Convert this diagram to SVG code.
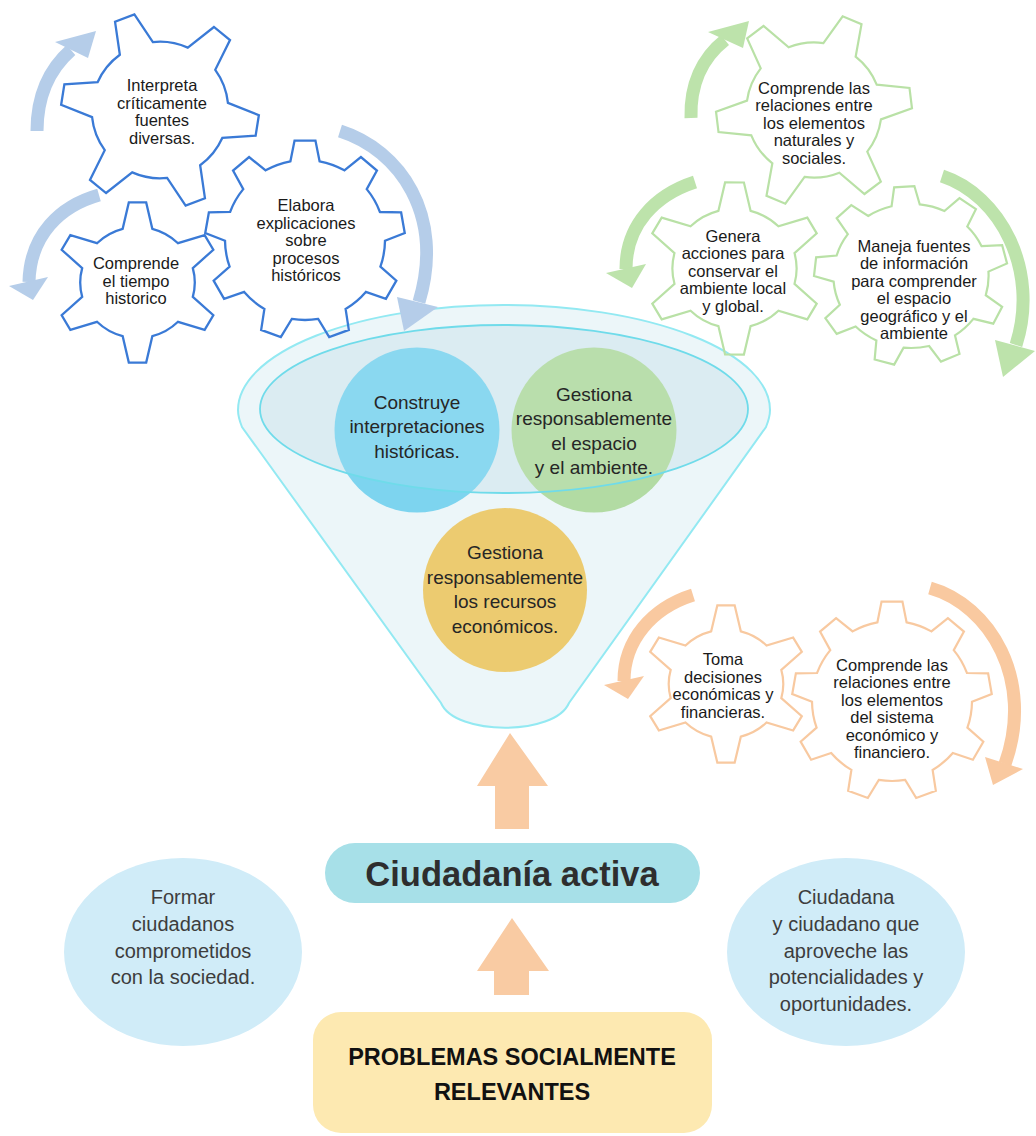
<svg xmlns="http://www.w3.org/2000/svg" xmlns:xlink="http://www.w3.org/1999/xlink" width="1036" height="1136" viewBox="0 0 1036 1136">
<style>
.gb{fill:none;stroke:#3a7ad6;stroke-width:2.3}
.gg{fill:none;stroke:#b9e1a6;stroke-width:2.2}
.go{fill:none;stroke:#f8c9a0;stroke-width:2.2}
.gt{font-family:"Liberation Sans",Arial,sans-serif;font-size:16.5px;fill:#1a1a1a;text-anchor:middle}
.ct{font-family:"Liberation Sans",Arial,sans-serif;font-size:19px;fill:#262626;text-anchor:middle}
.et{font-family:"Liberation Sans",Arial,sans-serif;font-size:20px;fill:#3d3d3d;text-anchor:middle}
.sb{fill:none;stroke:#b5cde9;stroke-width:13}
.sg{fill:none;stroke:#bde3ab;stroke-width:13}
.so{fill:none;stroke:#f9c9a0;stroke-width:13}
.hb{fill:#b5cde9}.hg{fill:#bde3ab}.ho{fill:#f9c9a0}
.up{fill:#f9cba3}
</style>
<defs>
<path id="gear6" vector-effect="non-scaling-stroke" d="M66.65,-17.86 L99.45,-10.45 L99.45,10.45 L66.65,17.86 A69,69 0 0 1 48.79,48.79 L58.78,80.9 L40.67,91.35 L17.86,66.65 A69,69 0 0 1 -17.86,66.65 L-40.67,91.35 L-58.78,80.9 L-48.79,48.79 A69,69 0 0 1 -66.65,17.86 L-99.45,10.45 L-99.45,-10.45 L-66.65,-17.86 A69,69 0 0 1 -48.79,-48.79 L-58.78,-80.9 L-40.67,-91.35 L-17.86,-66.65 A69,69 0 0 1 17.86,-66.65 L40.67,-91.35 L58.78,-80.9 L48.79,-48.79 A69,69 0 0 1 66.65,-17.86 Z"/>
<path id="gear9" vector-effect="non-scaling-stroke" d="M78.66,-14.58 L99.45,-10.45 L99.45,10.45 L78.66,14.58 A80,80 0 0 1 69.63,39.39 L82.9,55.92 L69.47,71.93 L50.89,61.73 A80,80 0 0 1 28.02,74.94 L27.56,96.13 L6.98,99.76 L-0.7,80 A80,80 0 0 1 -26.7,75.41 L-40.67,91.35 L-58.78,80.9 L-51.95,60.83 A80,80 0 0 1 -68.93,40.6 L-89.88,43.84 L-97.03,24.19 L-78.9,13.2 A80,80 0 0 1 -78.9,-13.2 L-97.03,-24.19 L-89.88,-43.84 L-68.93,-40.6 A80,80 0 0 1 -51.95,-60.83 L-58.78,-80.9 L-40.67,-91.35 L-26.7,-75.41 A80,80 0 0 1 -0.7,-80 L6.98,-99.76 L27.56,-96.13 L28.02,-74.94 A80,80 0 0 1 50.89,-61.73 L69.47,-71.93 L82.9,-55.92 L69.63,-39.39 A80,80 0 0 1 78.66,-14.58 Z"/>
</defs>
<rect width="1036" height="1136" fill="#ffffff"/>

<g id="funnel">
<path d="M238,410 A266,105 0 0 1 770,410 C770,416 768,422 766,427 L569,703 C555,736 455,736 441,703 L242,427 C240,422 238,416 238,410 Z" fill="#ecf6f9" stroke="#93e9f2" stroke-width="2"/>
<ellipse cx="504" cy="409" rx="244" ry="84" fill="#d7eaf1"/>
</g>
<g id="node-construye">
<circle cx="417" cy="430" r="82.5" fill="#7dd4ef"/>
</g>
<g id="node-gestiona-espacio">
<circle cx="594" cy="430" r="82.5" fill="#b2dba3"/>
</g>
<g id="node-gestiona-recursos">
<circle cx="505" cy="590" r="82" fill="#eccb70"/>
<text class="ct"><tspan x="505" y="558.5">Gestiona</tspan><tspan x="505" y="583.5">responsablemente</tspan><tspan x="505" y="607.5">los recursos</tspan><tspan x="505" y="632.5">económicos.</tspan></text>
</g>
<g id="funnel-rim">
<ellipse cx="504" cy="409" rx="244" ry="84" fill="#ffffff" fill-opacity="0.1" stroke="#6fdbea" stroke-width="1.8"/>
</g>
<g id="circle-texts">
<text class="ct"><tspan x="417" y="408.5">Construye</tspan><tspan x="417" y="432.5">interpretaciones</tspan><tspan x="417" y="457.5">históricas.</tspan></text>
<text class="ct"><tspan x="594" y="400.5">Gestiona</tspan><tspan x="594" y="424.5">responsablemente</tspan><tspan x="594" y="449.5">el espacio</tspan><tspan x="594" y="473.5">y el ambiente.</tspan></text>
</g>

<g id="connectors">
<path class="sb" d="M37,131 C37,100 46,72 71,50"/>
<polygon class="hb" points="55,42 96,31 88,58"/>
<path class="sb" d="M99,195 C60,206 30,235 29,282"/>
<polygon class="hb" points="9,286 48,277 33,300"/>
<path class="sb" d="M340,131 C400,150 445,215 419,302"/>
<polygon class="hb" points="397,297 438,307 404,331"/>
<path class="sg" d="M691,118 C690,85 702,58 725,40"/>
<polygon class="hg" points="708,32 749,21 743,48"/>
<path class="sg" d="M695,182 C655,195 626,225 626,269"/>
<polygon class="hg" points="606,273 646,264 632,288"/>
<path class="sg" d="M942,176 C1000,195 1040,270 1016,345"/>
<polygon class="hg" points="995,340 1035,351 1003,377"/>
<path class="so" d="M693,595 C652,608 624,640 624,681"/>
<polygon class="ho" points="604,685 644,676 628,699"/>
<path class="so" d="M930,588 C990,605 1035,680 1005,764"/>
<polygon class="ho" points="985,757 1023,769 993,785"/>
<polygon class="up" points="510,733 548,786 529,786 529,829 495,829 495,786 477,786"/>
<polygon class="up" points="512,918 549,971 529,971 529,995 494,995 494,971 477,971"/>
</g>

<g id="gear-interpreta">
<use xlink:href="#gear6" class="gb" transform="translate(160,110) rotate(9) scale(0.99)"/>
<text class="gt"><tspan x="162" y="91">Interpreta</tspan><tspan x="162" y="108.5">críticamente</tspan><tspan x="162" y="126">fuentes</tspan><tspan x="162" y="143.5">diversas.</tspan></text>
</g>
<g id="gear-tiempo">
<use xlink:href="#gear6" class="gb" transform="translate(137.5,282.5) scale(0.83,0.805) rotate(30)"/>
<text class="gt"><tspan x="136" y="269">Comprende</tspan><tspan x="136" y="286.5">el tiempo</tspan><tspan x="136" y="304">historico</tspan></text>
</g>
<g id="gear-elabora">
<use xlink:href="#gear9" class="gb" transform="translate(305,240) rotate(-10)"/>
<text class="gt"><tspan x="306" y="211">Elabora</tspan><tspan x="306" y="228.5">explicaciones</tspan><tspan x="306" y="246">sobre</tspan><tspan x="306" y="263.5">procesos</tspan><tspan x="306" y="281">históricos</tspan></text>
</g>
<g id="gear-naturales">
<use xlink:href="#gear6" class="gg" transform="translate(814,110) rotate(-7) scale(0.98)"/>
<text class="gt"><tspan x="814" y="93.5">Comprende las</tspan><tspan x="814" y="111">relaciones entre</tspan><tspan x="814" y="128.5">los elementos</tspan><tspan x="814" y="146">naturales y</tspan><tspan x="814" y="163.5">sociales.</tspan></text>
</g>
<g id="gear-genera">
<use xlink:href="#gear6" class="gg" transform="translate(734.5,268.5) scale(0.9,0.865) rotate(30)"/>
<text class="gt"><tspan x="733" y="241.5">Genera</tspan><tspan x="733" y="259">acciones para</tspan><tspan x="733" y="276.5">conservar el</tspan><tspan x="733" y="294">ambiente local</tspan><tspan x="733" y="311.5">y global.</tspan></text>
</g>
<g id="gear-maneja">
<use xlink:href="#gear9" class="gg" transform="translate(911,276) scale(0.97,0.9) rotate(-14)"/>
<text class="gt"><tspan x="914" y="251.5">Maneja fuentes</tspan><tspan x="914" y="269">de información</tspan><tspan x="914" y="286.5">para comprender</tspan><tspan x="914" y="304">el espacio</tspan><tspan x="914" y="321.5">geográfico y el</tspan><tspan x="914" y="339">ambiente</tspan></text>
</g>
<g id="gear-toma">
<use xlink:href="#gear6" class="go" transform="translate(726,684) scale(0.83,0.79) rotate(30)"/>
<text class="gt"><tspan x="723" y="665">Toma</tspan><tspan x="723" y="682.5">decisiones</tspan><tspan x="723" y="700">económicas y</tspan><tspan x="723" y="717.5">financieras.</tspan></text>
</g>
<g id="gear-financiero">
<use xlink:href="#gear9" class="go" transform="translate(892,701) rotate(-10)"/>
<text class="gt"><tspan x="892" y="670.5">Comprende las</tspan><tspan x="892" y="688">relaciones entre</tspan><tspan x="892" y="705.5">los elementos</tspan><tspan x="892" y="723">del sistema</tspan><tspan x="892" y="740.5">económico y</tspan><tspan x="892" y="758">financiero.</tspan></text>
</g>

<g id="node-ciudadania">
<rect x="325" y="843" width="375" height="60" rx="30" fill="#a7e0e8"/>
<text x="512" y="886" font-family="'Liberation Sans',Arial,sans-serif" font-size="34.5" font-weight="bold" fill="#2e2e2e" text-anchor="middle">Ciudadanía activa</text>
</g>
<g id="node-formar">
<ellipse cx="183" cy="952" rx="119" ry="94" fill="#d0ecf8"/>
<text class="et"><tspan x="183" y="904">Formar</tspan><tspan x="183" y="931">ciudadanos</tspan><tspan x="183" y="957.5">comprometidos</tspan><tspan x="183" y="984">con la sociedad.</tspan></text>
</g>
<g id="node-ciudadana">
<ellipse cx="846" cy="952" rx="119" ry="94" fill="#d0ecf8"/>
<text class="et"><tspan x="846" y="904">Ciudadana</tspan><tspan x="846" y="931">y ciudadano que</tspan><tspan x="846" y="957.5">aproveche las</tspan><tspan x="846" y="984">potencialidades y</tspan><tspan x="846" y="1011">oportunidades.</tspan></text>
</g>
<g id="node-problemas">
<rect x="313" y="1012" width="399" height="121" rx="28" fill="#fde9b1"/>
<text font-family="'Liberation Sans',Arial,sans-serif" font-size="23.5" font-weight="bold" fill="#111111" text-anchor="middle"><tspan x="512" y="1065">PROBLEMAS SOCIALMENTE</tspan><tspan x="512" y="1100">RELEVANTES</tspan></text>
</g>
</svg>
